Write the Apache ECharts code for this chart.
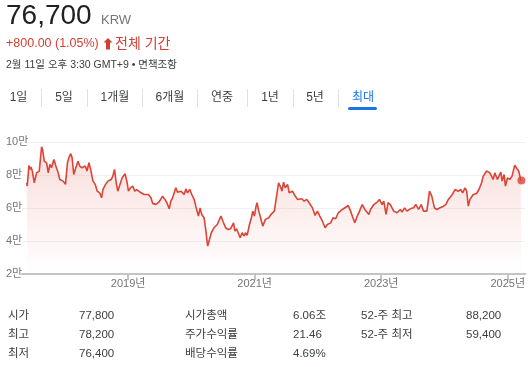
<!DOCTYPE html>
<html><head><meta charset="utf-8">
<script src="https://cdn.jsdelivr.net/npm/echarts@6/dist/echarts.min.js"></script>
<style>html,body{margin:0;padding:0;background:#fff;}#c{width:528px;height:367px;}</style>
</head><body><div id="c"></div>
<script>
// time in fractional years, price in KRW
const years = [2017.396,2017.405,2017.432,2017.448,2017.463,2017.485,2017.516,2017.553,2017.595,2017.632,2017.647,2017.674,2017.711,2017.726,2017.737,2017.763,2017.789,2017.826,2017.857,2017.894,2017.920,2017.946,2017.973,2017.988,2018.009,2018.041,2018.062,2018.093,2018.114,2018.140,2018.172,2018.208,2018.234,2018.271,2018.297,2018.323,2018.349,2018.381,2018.407,2018.444,2018.480,2018.512,2018.549,2018.580,2018.601,2018.643,2018.680,2018.706,2018.732,2018.758,2018.785,2018.811,2018.837,2018.863,2018.905,2018.952,2018.984,2019.005,2019.036,2019.073,2019.104,2019.136,2019.167,2019.204,2019.230,2019.256,2019.282,2019.319,2019.361,2019.387,2019.440,2019.476,2019.508,2019.544,2019.581,2019.612,2019.649,2019.675,2019.702,2019.728,2019.754,2019.780,2019.807,2019.833,2019.859,2019.885,2019.912,2019.938,2019.975,2020.006,2020.043,2020.069,2020.111,2020.137,2020.163,2020.200,2020.226,2020.257,2020.278,2020.315,2020.357,2020.383,2020.409,2020.436,2020.467,2020.498,2020.540,2020.582,2020.619,2020.645,2020.666,2020.687,2020.713,2020.739,2020.771,2020.802,2020.834,2020.855,2020.881,2020.918,2020.949,2020.970,2020.996,2021.022,2021.038,2021.064,2021.090,2021.127,2021.170,2021.222,2021.258,2021.311,2021.337,2021.378,2021.415,2021.431,2021.457,2021.483,2021.520,2021.546,2021.598,2021.625,2021.677,2021.745,2021.782,2021.824,2021.861,2021.913,2021.955,2021.992,2022.029,2022.071,2022.113,2022.149,2022.202,2022.238,2022.280,2022.322,2022.385,2022.480,2022.516,2022.553,2022.584,2022.621,2022.658,2022.700,2022.742,2022.768,2022.805,2022.831,2022.884,2022.936,2022.973,2023.014,2023.041,2023.077,2023.109,2023.145,2023.198,2023.250,2023.303,2023.329,2023.371,2023.407,2023.460,2023.512,2023.549,2023.591,2023.633,2023.669,2023.722,2023.764,2023.800,2023.842,2023.879,2023.931,2023.984,2024.021,2024.062,2024.088,2024.125,2024.167,2024.219,2024.256,2024.288,2024.325,2024.351,2024.377,2024.403,2024.456,2024.508,2024.545,2024.587,2024.613,2024.666,2024.718,2024.744,2024.770,2024.796,2024.838,2024.891,2024.912,2024.943,2024.964,2024.996,2025.032,2025.069,2025.111,2025.147,2025.174,2025.205,2025.216];
const prices = [75300,73300,85800,83400,84800,82400,75300,81300,82400,97100,95500,88400,87400,88400,81300,86400,84400,89400,85400,81300,77300,78300,76300,77300,74300,87400,90400,92900,90400,80300,84400,88400,85400,84400,83400,85400,82400,87400,83400,76300,74300,70200,69200,66200,71200,74300,76300,75300,77300,79300,83400,75300,70200,73300,78300,80700,75300,70200,72200,73300,70200,71200,72200,69200,70200,68200,68800,68200,66200,62800,62200,63200,64800,67200,65200,63200,59500,64200,66200,69200,72200,69600,70600,70200,71200,68200,71600,69200,71200,68200,65200,61100,55100,60100,56100,54100,47000,36900,39900,45000,48000,47000,50000,49000,55100,52000,48000,47000,47400,47000,51000,46000,47400,45000,42000,45000,43000,45000,43400,50000,54100,58100,55100,61100,63200,58100,54700,49000,53100,54100,56100,58100,59100,75300,72200,70200,75700,72200,74300,69200,70200,68200,65200,65600,64200,65200,63200,60100,55500,58100,55100,52000,48000,50000,51000,54100,53500,57100,59100,61500,58100,54100,51000,55100,58100,62100,59100,58100,56100,59100,62100,63600,65200,62100,64200,56100,63200,62100,58100,57100,59100,57500,60100,58100,59500,60100,62100,59100,62100,58100,58100,70200,67200,60100,59100,60100,61100,62100,65200,64200,68200,71200,70200,71200,69200,72200,70200,61100,65200,68200,68800,71200,75300,79300,82400,81300,82400,77300,81300,77300,81700,76300,80300,73300,78300,77300,79300,86000,83800,82400,77300,76700];
const yTicks = [20000, 40000, 60000, 80000, 100000];
const xTickYears = [2019, 2021, 2023, 2025];
const tabs = ['1일','5일','1개월','6개월','연중','1년','5년','최대'];
const statsLabels1 = ['시가','최고','최저'];
const statsValues1 = ['77,800','78,200','76,400'];
const statsLabels2 = ['시가총액','주가수익률','배당수익률'];
const statsValues2 = ['6.06조','21.46','4.69%'];
const statsLabels3 = ['52-주 최고','52-주 최저'];
const statsValues3 = ['88,200','59,400'];
const lastPrice = '76,700';
const change = '+800.00 (1.05%)';

const F = '"Liberation Sans", Arial, "Noto Sans CJK KR", sans-serif';
const RED = '#d23f31';
const chart = echarts.init(document.getElementById('c'), null, {renderer:'canvas'});
const seriesData = years.map((y,i)=>[y, prices[i]]);
const last = seriesData[seriesData.length-1];

const g = [];
function txt(x,y,t,size,color,extra){ g.push({type:'text', x:x, y:y, style:Object.assign({text:t, font:size+'px '+F, fill:color, textVerticalAlign:'middle'}, extra||{})}); }
txt(6, 16, lastPrice, 28, '#202124');
txt(101, 20, 'KRW', 13, '#70757a');
txt(6, 44, change, 12.5, RED);
// up arrow icon
g.push({type:'polygon', shape:{points:[[108,38],[112.5,42.5],[110,42.5],[110,49.5],[106,49.5],[106,42.5],[103.5,42.5]]}, style:{fill:RED}});
txt(115, 44, '전체 기간', 14, RED);
txt(6, 65, '2월 11일 오후 3:30 GMT+9 • 면책조항', 10.5, '#3c4043');
const tabCenters = [18.5, 64, 115, 170, 222, 270, 315, 363];
const sepX = [41, 87, 142, 197, 247, 293, 338];
tabs.forEach((t,i)=>{ txt(tabCenters[i], 97.5, t, 12, i===tabs.length-1?'#1a73e8':'#3c4043', {textAlign:'center'}); });
sepX.forEach(x=>g.push({type:'line', shape:{x1:x+0.5,y1:89,x2:x+0.5,y2:107}, style:{stroke:'#e0e0e0', lineWidth:1}}));
g.push({type:'rect', shape:{x:348,y:107,width:29,height:3,r:1.5}, style:{fill:'#1a73e8'}});
const rowsY = [316, 335, 354];
statsLabels1.forEach((t,i)=>txt(8, rowsY[i], t, 11.5, '#3c4043'));
statsValues1.forEach((t,i)=>txt(79, rowsY[i], t, 11.5, '#3c4043'));
statsLabels2.forEach((t,i)=>txt(185, rowsY[i], t, 11.5, '#3c4043'));
statsValues2.forEach((t,i)=>txt(293, rowsY[i], t, 11.5, '#3c4043'));
statsLabels3.forEach((t,i)=>txt(361, rowsY[i], t, 11.5, '#3c4043'));
statsValues3.forEach((t,i)=>txt(466, rowsY[i], t, 11.5, '#3c4043'));

chart.setOption({
  animation:false,
  grid:{left:22, right:0, top:142, bottom:93, containLabel:false},
  xAxis:{type:'value', min:2017.322, max:2025.278,
    axisLine:{show:true, lineStyle:{color:'#c4c4c4', width:2}},
    axisTick:{show:true, customValues:xTickYears, length:6, lineStyle:{color:'#c4c4c4', width:2}},
    axisLabel:{customValues:xTickYears, formatter:v=>v+'년', fontSize:11, color:'#70757a', fontFamily:F, margin:4},
    splitLine:{show:false}},
  yAxis:{type:'value', min:20000, max:100000, interval:20000,
    axisLine:{show:false}, axisTick:{show:false},
    axisLabel:{formatter:v=>(v/10000)+'만', fontSize:11, color:'#70757a', fontFamily:F, align:'left', margin:16},
    splitLine:{show:true, lineStyle:{color:'#f1f1f1', width:1}}},
  series:[
    {type:'line', data:seriesData, showSymbol:false, symbol:'none',
      lineStyle:{color:'#db4437', width:1.6}, z:3,
      areaStyle:{color:new echarts.graphic.LinearGradient(0,0,0,1,[{offset:0,color:'rgba(219,68,55,0.26)'},{offset:1,color:'rgba(219,68,55,0.0)'}])}},
    {type:'scatter', data:[last], symbol:'circle', symbolSize:8, itemStyle:{color:'#db4437'}, z:4}
  ],
  graphic:g
});
</script></body></html>
